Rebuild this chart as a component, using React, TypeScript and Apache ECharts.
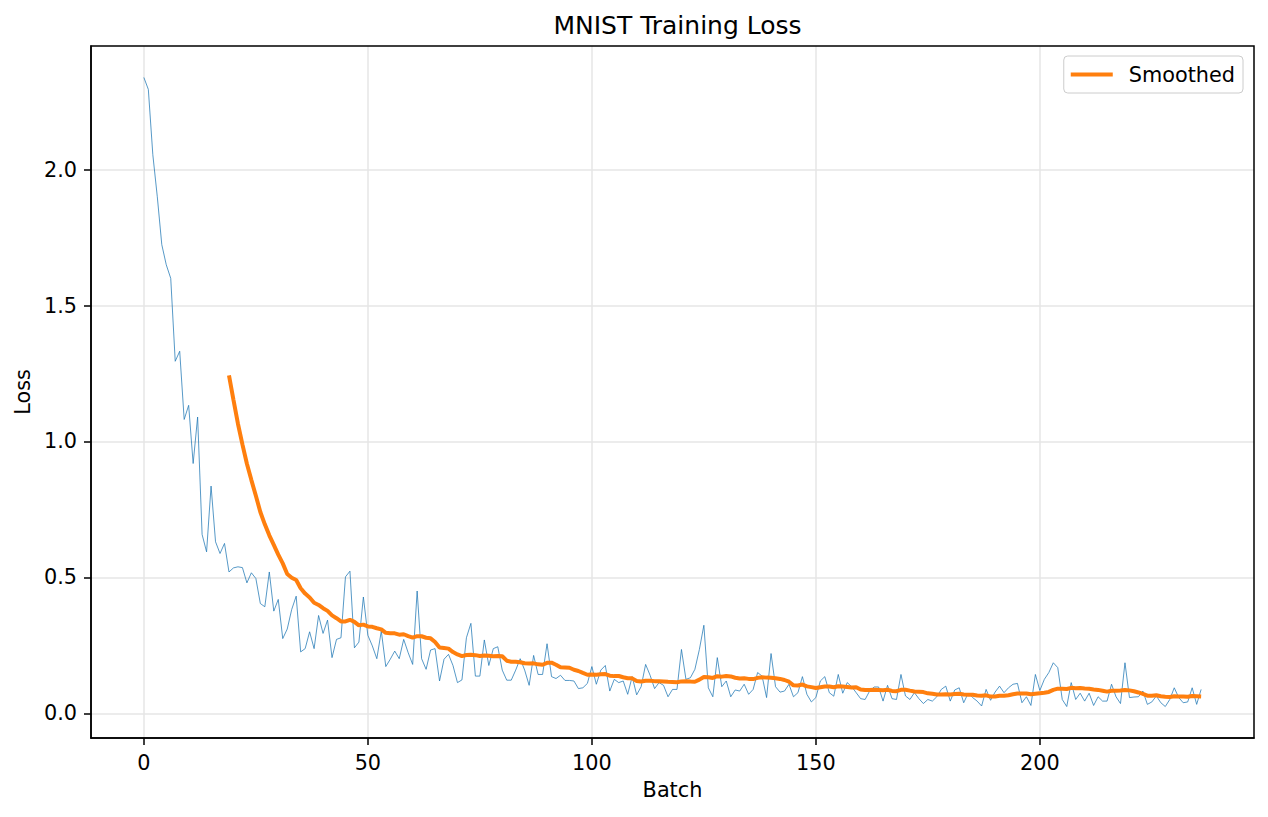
import { useEffect, useRef } from "react";
import * as echarts from "echarts";

// Per-batch training loss on MNIST (batch index = position in the array)
const batchLoss: number[] = [
  2.339, 2.295, 2.055, 1.9, 1.724, 1.65, 1.6, 1.295, 1.332, 1.081,
  1.133, 0.919, 1.09, 0.658, 0.594, 0.836, 0.631, 0.588, 0.625, 0.52,
  0.535, 0.539, 0.536, 0.48, 0.517, 0.496, 0.404, 0.392, 0.52, 0.376,
  0.419, 0.275, 0.31, 0.382, 0.431, 0.226, 0.238, 0.3, 0.238, 0.36,
  0.294, 0.343, 0.205, 0.272, 0.278, 0.502, 0.523, 0.241, 0.262, 0.428,
  0.287, 0.248, 0.201, 0.303, 0.172, 0.199, 0.229, 0.201, 0.272, 0.223,
  0.18, 0.45, 0.201, 0.162, 0.233, 0.238, 0.119, 0.199, 0.217, 0.176,
  0.113, 0.123, 0.278, 0.331, 0.137, 0.137, 0.27, 0.176, 0.238, 0.245,
  0.159, 0.122, 0.122, 0.159, 0.201, 0.159, 0.103, 0.213, 0.143, 0.143,
  0.256, 0.135, 0.128, 0.14, 0.121, 0.121, 0.119, 0.091, 0.094, 0.11,
  0.172, 0.107, 0.159, 0.176, 0.082, 0.125, 0.113, 0.119, 0.07, 0.135,
  0.068, 0.098, 0.18, 0.14, 0.091, 0.113, 0.103, 0.061, 0.088, 0.088,
  0.235, 0.125, 0.131, 0.162, 0.235, 0.324, 0.094, 0.061, 0.205, 0.098,
  0.119, 0.061, 0.086, 0.082, 0.107, 0.07, 0.088, 0.15, 0.137, 0.058,
  0.22, 0.098, 0.078, 0.082, 0.107, 0.061, 0.076, 0.135, 0.07, 0.042,
  0.058, 0.119, 0.135, 0.076, 0.063, 0.143, 0.074, 0.113, 0.098, 0.076,
  0.054, 0.051, 0.082, 0.097, 0.097, 0.045, 0.103, 0.054, 0.051, 0.143,
  0.064, 0.051, 0.076, 0.054, 0.036, 0.051, 0.045, 0.061, 0.088, 0.1,
  0.045, 0.086, 0.094, 0.039, 0.074, 0.058, 0.045, 0.027, 0.088, 0.048,
  0.078, 0.1, 0.076, 0.094, 0.107, 0.11, 0.039, 0.061, 0.029, 0.143,
  0.084, 0.125, 0.15, 0.186, 0.168, 0.051, 0.025, 0.113, 0.051, 0.074,
  0.045, 0.074, 0.029, 0.061, 0.045, 0.045, 0.107, 0.061, 0.036, 0.186,
  0.058, 0.06, 0.061, 0.082, 0.033, 0.042, 0.064, 0.039, 0.025, 0.051,
  0.094, 0.058, 0.039, 0.042, 0.094, 0.033, 0.088,
];

// Moving-average window for the smoothed curve
const SMOOTH_WINDOW = 20;

const xTicks = [0, 50, 100, 150, 200];
const yTicks = [0, 0.5, 1.0, 1.5, 2.0];

const rawPoints = batchLoss.map((v, i) => [i, v]);
const smoothedPoints: number[][] = [];
for (let i = SMOOTH_WINDOW - 1; i < batchLoss.length; i++) {
  let s = 0;
  for (let k = i - SMOOTH_WINDOW + 1; k <= i; k++) s += batchLoss[k];
  smoothedPoints.push([i, s / SMOOTH_WINDOW]);
}

// 5% padding around the data range on both axes
const xLo = 0;
const xHi = batchLoss.length - 1;
const xPad = (xHi - xLo) * 0.05;
const yLo = Math.min(...batchLoss);
const yHi = Math.max(...batchLoss);
const yPad = (yHi - yLo) * 0.05;

const FONT = "DejaVu Sans";
const PLOT = { left: 91, top: 46, width: 1163, height: 692 };

const near = (list: number[], v: number) => list.some((t) => Math.abs(t - v) < 1e-6);

export default function App() {
  const ref = useRef<HTMLDivElement>(null);

  useEffect(() => {
    if (!ref.current) return;
    const chart = echarts.init(ref.current, undefined, { renderer: "svg" });
    const axisText = { fontFamily: FONT, fontSize: 20.8, color: "#000" };
    chart.setOption({
      animation: false,
      backgroundColor: "#fff",
      title: {
        text: "MNIST Training Loss",
        left: PLOT.left + PLOT.width / 2,
        textAlign: "center",
        top: 8,
        textStyle: { fontFamily: FONT, fontSize: 25, fontWeight: "normal", color: "#000" },
      },
      legend: {
        data: ["Smoothed"],
        right: 25,
        top: 56,
        icon: "rect",
        itemWidth: 42,
        itemHeight: 4,
        padding: [8, 8, 8, 7],
        backgroundColor: "rgba(255,255,255,0.8)",
        borderColor: "#cccccc",
        borderWidth: 1,
        borderRadius: 4,
        textStyle: { ...axisText, padding: [0, 0, 0, 11] },
      },
      grid: {
        left: PLOT.left,
        top: PLOT.top,
        width: PLOT.width,
        height: PLOT.height,
        show: false,
      },
      xAxis: {
        type: "value",
        min: xLo - xPad,
        max: xHi + xPad,
        splitNumber: 5,
        minInterval: 50,
        maxInterval: 50,
        name: "Batch",
        nameLocation: "middle",
        nameGap: 41,
        nameTextStyle: axisText,
        axisLine: { show: true, onZero: false, lineStyle: { color: "#000", width: 1.5 } },
        axisTick: { show: true, length: 7, customValues: xTicks, lineStyle: { color: "#000", width: 1.5 } },
        axisLabel: {
          ...axisText,
          margin: 14,
          customValues: xTicks,
          formatter: (v: number) => (near(xTicks, v) ? String(Math.round(v)) : ""),
        },
        splitLine: { show: true, lineStyle: { color: "#e6e6e6", width: 1.5 } },
      },
      yAxis: {
        type: "value",
        min: yLo - yPad,
        max: yHi + yPad,
        splitNumber: 5,
        minInterval: 0.5,
        maxInterval: 0.5,
        name: "Loss",
        nameLocation: "middle",
        nameGap: 52,
        nameTextStyle: axisText,
        axisLine: { show: true, onZero: false, lineStyle: { color: "#000", width: 1.5 } },
        axisTick: { show: true, length: 7, customValues: yTicks, lineStyle: { color: "#000", width: 1.5 } },
        axisLabel: {
          ...axisText,
          margin: 14,
          customValues: yTicks,
          formatter: (v: number) => (near(yTicks, v) ? v.toFixed(1) : ""),
        },
        splitLine: { show: true, lineStyle: { color: "#e6e6e6", width: 1.5 } },
      },
      graphic: [
        {
          type: "rect",
          z: 100,
          silent: true,
          shape: { x: PLOT.left, y: PLOT.top, width: PLOT.width, height: PLOT.height },
          style: { fill: "none", stroke: "#000", lineWidth: 1.5 },
        },
      ],
      series: [
        {
          name: "Loss",
          type: "line",
          data: rawPoints,
          symbol: "none",
          z: 2,
          itemStyle: { color: "#1f77b4" },
          lineStyle: { color: "#1f77b4", width: 1, opacity: 0.75 },
        },
        {
          name: "Smoothed",
          type: "line",
          data: smoothedPoints,
          symbol: "none",
          z: 3,
          itemStyle: { color: "#ff7f0e" },
          lineStyle: { color: "#ff7f0e", width: 4 },
        },
      ],
    });
    return () => chart.dispose();
  }, []);

  return (
    <div
      ref={ref}
      style={{ position: "fixed", left: 0, top: 0, width: 1268, height: 817, background: "#fff" }}
    />
  );
}
